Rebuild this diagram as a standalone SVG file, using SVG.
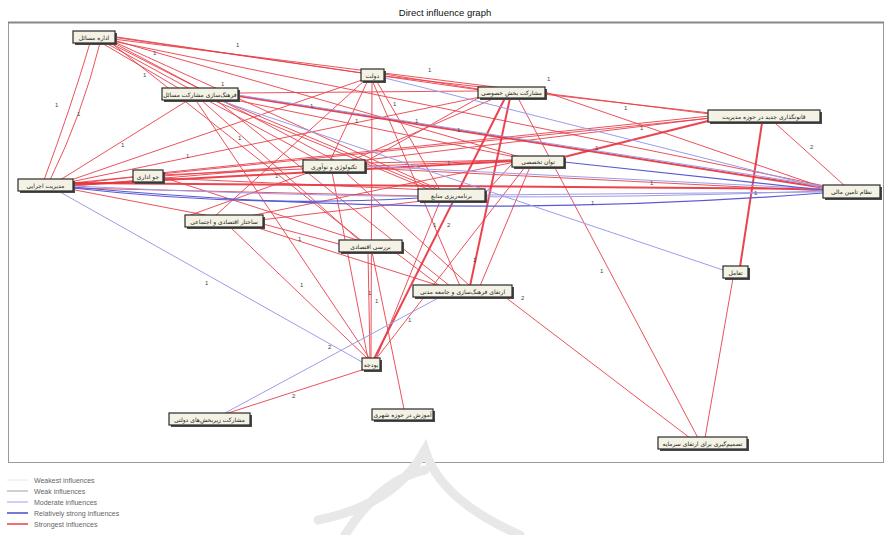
<svg xmlns="http://www.w3.org/2000/svg" width="889" height="535" viewBox="0 0 889 535">
<style>
.title{font-family:"Liberation Sans",Arial,sans-serif;font-size:9.5px;fill:#111;}
.lg{font-family:"Liberation Sans",Arial,sans-serif;font-size:7px;fill:#666;}
.nt{font-family:"DejaVu Sans","Noto Sans",sans-serif;font-size:6px;fill:#222;}
.box{fill:#f3f2e4;stroke:#2a2a2a;stroke-width:1.2;}
.sh{fill:#4a4a4a;}
.s{stroke:#e8404a;stroke-width:1;fill:none;stroke-opacity:0.9;}
.st{stroke:#e8303c;stroke-width:2;fill:none;stroke-opacity:0.9;}
.m{stroke:#9c9cea;stroke-width:1;fill:none;}
.rs{stroke:#5a5ad2;stroke-width:1.2;fill:none;}
.el{font-family:"Liberation Sans",Arial,sans-serif;font-size:6px;fill:#444;}
</style>
<rect x="0" y="0" width="889" height="535" fill="#ffffff"/>
<text class="title" x="445" y="16" text-anchor="middle">Direct influence graph</text>
<rect x="8.5" y="22.5" width="875" height="440" fill="#ffffff" stroke="#9a9a9a" stroke-width="1"/>
<line x1="8" y1="22.5" x2="884" y2="22.5" stroke="#888" stroke-width="2"/>
<g id="watermark" fill="none" stroke="#e8e8e8" stroke-width="9" stroke-linecap="round">
<path d="M318 520 Q 395 505 425 450 Q 440 500 520 535"/>
<path d="M345 535 Q 380 480 425 470"/>
</g>
<g id="connectors">
<path class="s" d="M90 43 Q 70 110 44 180"/>
<path class="s" d="M100 43 Q 82 115 50 180"/>
<line class="s" x1="110" y1="36" x2="362" y2="73"/>
<line class="s" x1="112" y1="37" x2="480" y2="90"/>
<line class="s" x1="113" y1="39" x2="710" y2="114"/>
<line class="s" x1="112" y1="41" x2="825" y2="186"/>
<line class="s" x1="100" y1="42" x2="180" y2="89"/>
<line class="s" x1="108" y1="42" x2="200" y2="89"/>
<line class="s" x1="104" y1="42" x2="190" y2="89"/>
<line class="s" x1="112" y1="42" x2="334" y2="160"/>
<line class="s" x1="112" y1="41" x2="440" y2="190"/>
<line class="s" x1="113" y1="40" x2="520" y2="157"/>
<line class="s" x1="110" y1="42" x2="362" y2="241"/>
<line class="s" x1="60" y1="180" x2="190" y2="99"/>
<line class="s" x1="68" y1="181" x2="365" y2="79"/>
<line class="s" x1="70" y1="182" x2="485" y2="96"/>
<line class="s" x1="72" y1="183" x2="712" y2="118"/>
<line class="st" x1="72" y1="185" x2="515" y2="161"/>
<line class="s" x1="72" y1="186" x2="305" y2="166"/>
<line class="s" x1="72" y1="184" x2="134" y2="177"/>
<line class="s" x1="72" y1="188" x2="420" y2="196"/>
<line class="s" x1="70" y1="189" x2="210" y2="216"/>
<line class="s" x1="205" y1="99" x2="320" y2="161"/>
<line class="s" x1="210" y1="99" x2="430" y2="190"/>
<line class="s" x1="218" y1="99" x2="436" y2="190"/>
<line class="s" x1="200" y1="99" x2="360" y2="241"/>
<line class="s" x1="215" y1="99" x2="450" y2="286"/>
<line class="s" x1="195" y1="99" x2="370" y2="359"/>
<line class="s" x1="238" y1="93" x2="478" y2="91"/>
<line class="s" x1="230" y1="99" x2="520" y2="158"/>
<line class="s" x1="384" y1="76" x2="710" y2="113"/>
<line class="s" x1="384" y1="74" x2="478" y2="89"/>
<line class="s" x1="368" y1="80" x2="330" y2="161"/>
<line class="s" x1="376" y1="80" x2="440" y2="190"/>
<line class="s" x1="372" y1="80" x2="460" y2="286"/>
<line class="s" x1="365" y1="80" x2="215" y2="216"/>
<line class="s" x1="372" y1="80" x2="371" y2="359"/>
<line class="st" x1="505" y1="98" x2="374" y2="359"/>
<line class="st" x1="510" y1="98" x2="470" y2="286"/>
<line class="s" x1="518" y1="98" x2="698" y2="438"/>
<line class="s" x1="495" y1="98" x2="350" y2="161"/>
<line class="s" x1="545" y1="92" x2="825" y2="188"/>
<line class="s" x1="710" y1="118" x2="350" y2="162"/>
<line class="st" x1="712" y1="120" x2="560" y2="158"/>
<line class="st" x1="762" y1="123" x2="740" y2="267"/>
<line class="s" x1="775" y1="123" x2="845" y2="186"/>
<line class="s" x1="710" y1="116" x2="160" y2="173"/>
<line class="s" x1="525" y1="167" x2="376" y2="359"/>
<line class="s" x1="530" y1="167" x2="480" y2="286"/>
<line class="s" x1="515" y1="162" x2="250" y2="216"/>
<line class="s" x1="512" y1="160" x2="365" y2="163"/>
<line class="s" x1="512" y1="164" x2="485" y2="193"/>
<line class="st" x1="238" y1="96" x2="825" y2="188"/>
<line class="s" x1="365" y1="168" x2="825" y2="191"/>
<line class="s" x1="365" y1="162" x2="480" y2="97"/>
<line class="st" x1="73" y1="183" x2="823" y2="189"/>
<line class="s" x1="230" y1="227" x2="368" y2="359"/>
<line class="s" x1="255" y1="227" x2="440" y2="286"/>
<line class="s" x1="260" y1="220" x2="430" y2="200"/>
<line class="s" x1="263" y1="224" x2="339" y2="244"/>
<line class="s" x1="368" y1="252" x2="370" y2="359"/>
<line class="s" x1="372" y1="252" x2="404" y2="409"/>
<line class="s" x1="395" y1="252" x2="440" y2="286"/>
<line class="s" x1="505" y1="297" x2="690" y2="438"/>
<line class="s" x1="733" y1="278" x2="705" y2="438"/>
<line class="s" x1="365" y1="369" x2="225" y2="414"/>
<line class="s" x1="332" y1="172" x2="368" y2="359"/>
<line class="s" x1="345" y1="172" x2="470" y2="286"/>
<line class="s" x1="160" y1="178" x2="430" y2="190"/>
<line class="s" x1="160" y1="175" x2="515" y2="160"/>
<line class="s" x1="163" y1="176" x2="303" y2="166"/>
<line class="s" x1="440" y1="201" x2="376" y2="359"/>
<line class="s" x1="165" y1="178" x2="360" y2="241"/>
<line class="s" x1="310" y1="172" x2="185" y2="217"/>
<path class="rs" d="M73 187 Q 450 222 823 193"/>
<path class="m" d="M73 186 Q 450 205 823 191"/>
<path class="rs" d="M73 188 Q 250 208 418 198"/>
<line class="m" x1="60" y1="192" x2="362" y2="362"/>
<line class="m" x1="225" y1="413" x2="440" y2="297"/>
<line class="m" x1="215" y1="99" x2="723" y2="270"/>
<line class="m" x1="238" y1="95" x2="823" y2="186"/>
<line class="m" x1="365" y1="166" x2="823" y2="189"/>
<line class="m" x1="385" y1="78" x2="823" y2="188"/>
<line class="rs" x1="564" y1="162" x2="823" y2="190"/>
<line class="m" x1="485" y1="195" x2="823" y2="192"/>
</g>
<g id="edge-labels">
<text class="el" x="55" y="107">1</text><text class="el" x="77" y="116">1</text>
<text class="el" x="236" y="47">1</text><text class="el" x="153" y="55">1</text>
<text class="el" x="143" y="77">1</text><text class="el" x="221" y="86">1</text>
<text class="el" x="121" y="147">1</text><text class="el" x="186" y="158">1</text>
<text class="el" x="428" y="72">1</text><text class="el" x="547" y="81">1</text>
<text class="el" x="310" y="108">1</text><text class="el" x="355" y="123">1</text>
<text class="el" x="415" y="123">1</text><text class="el" x="457" y="132">1</text>
<text class="el" x="624" y="110">1</text><text class="el" x="640" y="130">1</text>
<text class="el" x="595" y="150">1</text><text class="el" x="810" y="149">2</text>
<text class="el" x="650" y="185">1</text><text class="el" x="591" y="205">1</text>
<text class="el" x="754" y="195">1</text><text class="el" x="275" y="178">1</text>
<text class="el" x="238" y="140">1</text><text class="el" x="447" y="165">1</text>
<text class="el" x="433" y="227">1</text><text class="el" x="447" y="227">2</text>
<text class="el" x="298" y="241">1</text><text class="el" x="300" y="287">1</text>
<text class="el" x="205" y="285">1</text><text class="el" x="328" y="349">2</text>
<text class="el" x="368" y="295">1</text><text class="el" x="375" y="303">1</text>
<text class="el" x="408" y="322">1</text><text class="el" x="521" y="300">2</text>
<text class="el" x="600" y="273">1</text><text class="el" x="292" y="398">2</text>
<text class="el" x="473" y="262">1</text><text class="el" x="393" y="106">1</text>
</g>
<g id="n1"><rect class="sh" x="75" y="33" width="42" height="12"/><rect class="box" x="73" y="31" width="42" height="12"/><text class="nt" x="94" y="39.5" text-anchor="middle">اداره مسائل</text></g>
<g id="n2"><rect class="sh" x="164" y="90" width="76" height="12"/><rect class="box" x="162" y="88" width="76" height="12"/><text class="nt" x="200" y="96.5" text-anchor="middle">فرهنگ‌سازی مشارکت مسائل</text></g>
<g id="n3"><rect class="sh" x="363" y="71" width="23" height="12"/><rect class="box" x="361" y="69" width="23" height="12"/><text class="nt" x="372.5" y="77.5" text-anchor="middle">دولت</text></g>
<g id="n4"><rect class="sh" x="480" y="89" width="67" height="11"/><rect class="box" x="478" y="87" width="67" height="11"/><text class="nt" x="511.5" y="95" text-anchor="middle">مشارکت بخش خصوصی</text></g>
<g id="n5"><rect class="sh" x="710" y="112" width="112" height="12"/><rect class="box" x="708" y="110" width="112" height="12"/><text class="nt" x="764" y="118.5" text-anchor="middle">قانونگذاری جدید در حوزه مدیریت</text></g>
<g id="n6"><rect class="sh" x="514" y="158" width="52" height="11"/><rect class="box" x="512" y="156" width="52" height="11"/><text class="nt" x="538" y="164" text-anchor="middle">توان تخصصی</text></g>
<g id="n7"><rect class="sh" x="305" y="162" width="62" height="12"/><rect class="box" x="303" y="160" width="62" height="12"/><text class="nt" x="334" y="168.5" text-anchor="middle">تکنولوژی و نوآوری</text></g>
<g id="n8"><rect class="sh" x="135" y="172" width="30" height="12"/><rect class="box" x="133" y="170" width="30" height="12"/><text class="nt" x="148" y="178.5" text-anchor="middle">جو اداری</text></g>
<g id="n9"><rect class="sh" x="20" y="181" width="55" height="12"/><rect class="box" x="18" y="179" width="55" height="12"/><text class="nt" x="45.5" y="187.5" text-anchor="middle">مدیریت اجرایی</text></g>
<g id="n10"><rect class="sh" x="420" y="191" width="67" height="12"/><rect class="box" x="418" y="189" width="67" height="12"/><text class="nt" x="451.5" y="197.5" text-anchor="middle">برنامه‌ریزی منابع</text></g>
<g id="n11"><rect class="sh" x="825" y="187" width="57" height="13"/><rect class="box" x="823" y="185" width="57" height="13"/><text class="nt" x="851.5" y="194" text-anchor="middle">نظام تامین مالی</text></g>
<g id="n12"><rect class="sh" x="187" y="217" width="78" height="12"/><rect class="box" x="185" y="215" width="78" height="12"/><text class="nt" x="224" y="223.5" text-anchor="middle">ساختار اقتصادی و اجتماعی</text></g>
<g id="n13"><rect class="sh" x="341" y="242" width="63" height="12"/><rect class="box" x="339" y="240" width="63" height="12"/><text class="nt" x="370.5" y="248.5" text-anchor="middle">بررسی اقتصادی</text></g>
<g id="n14"><rect class="sh" x="415" y="287" width="99" height="12"/><rect class="box" x="413" y="285" width="99" height="12"/><text class="nt" x="462.5" y="293.5" text-anchor="middle">ارتقای فرهنگ‌سازی و جامعه مدنی</text></g>
<g id="n15"><rect class="sh" x="725" y="268" width="25" height="12"/><rect class="box" x="723" y="266" width="25" height="12"/><text class="nt" x="735.5" y="274.5" text-anchor="middle">تعامل</text></g>
<g id="n16"><rect class="sh" x="364" y="360" width="18" height="12"/><rect class="box" x="362" y="358" width="18" height="12"/><text class="nt" x="371" y="366.5" text-anchor="middle">بودجه</text></g>
<g id="n17"><rect class="sh" x="171" y="415" width="81" height="12"/><rect class="box" x="169" y="413" width="81" height="12"/><text class="nt" x="209.5" y="421.5" text-anchor="middle">مشارکت زیربخش‌های دولتی</text></g>
<g id="n18"><rect class="sh" x="374" y="411" width="61" height="11"/><rect class="box" x="372" y="409" width="61" height="11"/><text class="nt" x="402.5" y="417" text-anchor="middle">آموزش در حوزه شهری</text></g>
<g id="n19"><rect class="sh" x="660" y="439" width="89" height="12"/><rect class="box" x="658" y="437" width="89" height="12"/><text class="nt" x="702.5" y="445.5" text-anchor="middle">تصمیم‌گیری برای ارتقای سرمایه</text></g>
<g id="legend">
<line x1="7" y1="480" x2="28" y2="480" stroke="#e6e6e6" stroke-width="1"/>
<text class="lg" x="34" y="482.5">Weakest influences</text>
<line x1="7" y1="491" x2="28" y2="491" stroke="#9aa59a" stroke-width="1"/>
<text class="lg" x="34" y="493.5">Weak influences</text>
<line x1="7" y1="502" x2="28" y2="502" stroke="#a0a0ea" stroke-width="1"/>
<text class="lg" x="34" y="504.5">Moderate influences</text>
<line x1="7" y1="513" x2="28" y2="513" stroke="#4a4ac8" stroke-width="1.5"/>
<text class="lg" x="34" y="515.5">Relatively strong influences</text>
<line x1="7" y1="524" x2="28" y2="524" stroke="#e8404a" stroke-width="1.5"/>
<text class="lg" x="34" y="526.5">Strongest influences</text>
</g>
</svg>
